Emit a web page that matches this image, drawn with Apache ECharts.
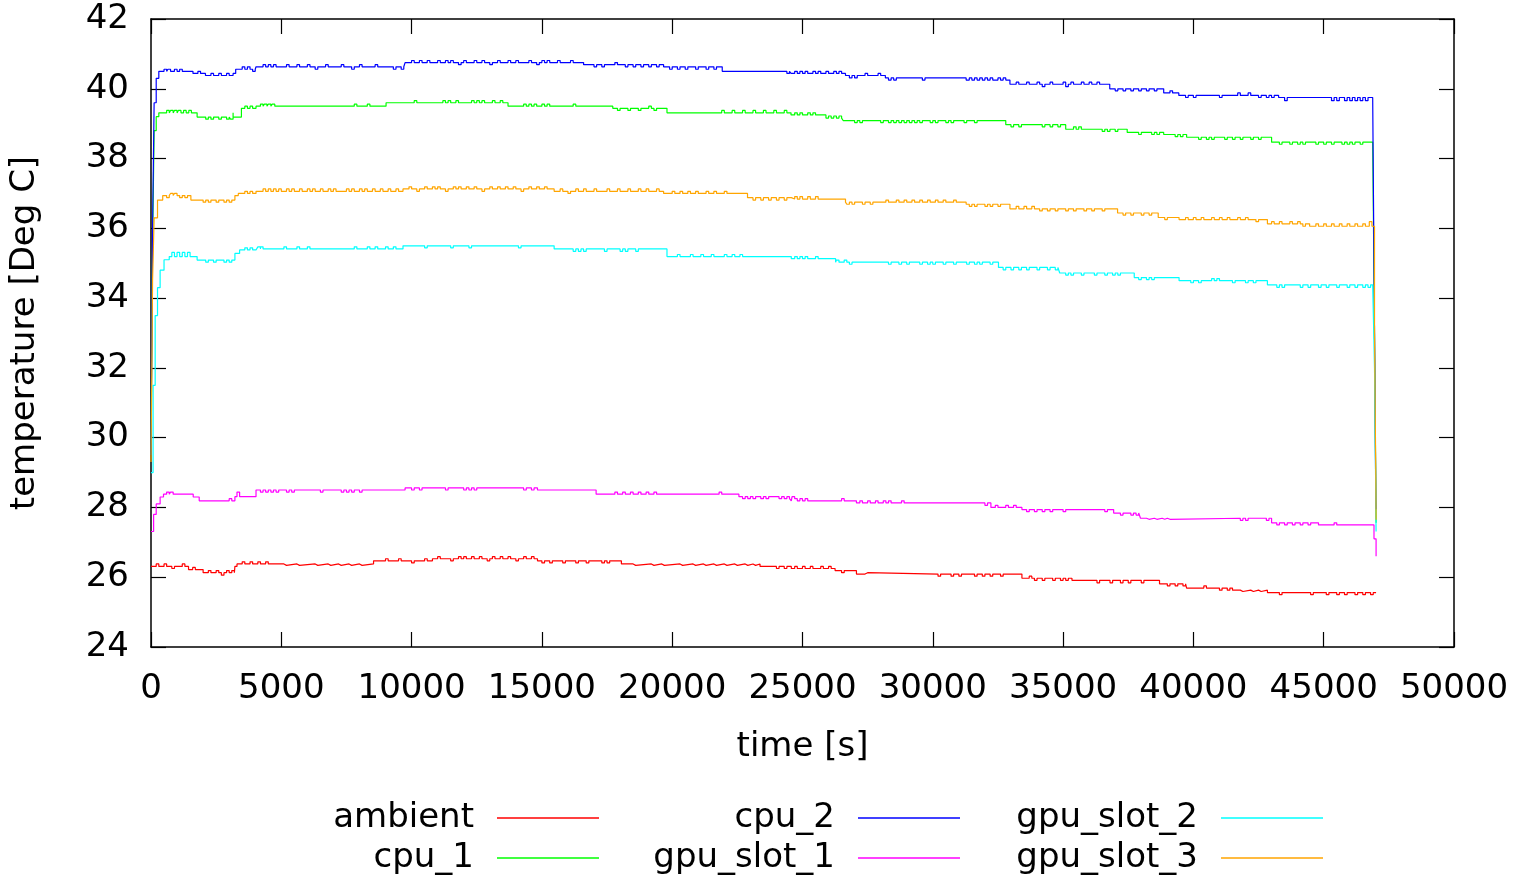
<!DOCTYPE html>
<html>
<head>
<meta charset="utf-8">
<script src="https://cdn.jsdelivr.net/npm/echarts@6/dist/echarts.min.js"></script>
<style>
  html, body { margin: 0; padding: 0; background: #fff; }
  #chart { width: 1516px; height: 877px; }
</style>
</head>
<body>
<div id="chart"></div>
<script>
// series names, in legend order
const seriesNames = ['ambient', 'cpu_1', 'cpu_2', 'gpu_slot_1', 'gpu_slot_2', 'gpu_slot_3'];
const seriesColors = ['#ff0000', '#00ff00', '#0000ff', '#ff00ff', '#00ffff', '#ffa500'];

// temperature levels: [time s, deg C], each value holds until the next time
// short sensor flickers: [time s, deg C], one reading off the current level

const ambientLevels = [
    [0, 26.31], [1440, 26.22], [2000, 26.13], [3220, 26.31], [3300, 26.38], [8540, 26.47], [10800, 26.53],
    [14830, 26.47], [18050, 26.38], [23370, 26.31], [24570, 26.25], [26250, 26.19], [27070, 26.09],
    [33420, 25.97], [35340, 25.91], [38700, 25.81], [39740, 25.69], [41500, 25.63], [42840, 25.56], [47010, 25.56]
];
const ambientFlicker = [
    [200, 26.38], [500, 26.38], [800, 26.25], [1200, 26.38],
    [1600, 26.28], [2200, 26.19], [2500, 26.19], [2700, 26.06], [2900, 26.19], [3100, 26.19],
    [3500, 26.44], [3800, 26.44], [4100, 26.44], [4400, 26.44], [5100, 26.34], [5600, 26.34], [6300, 26.34],
    [6800, 26.34], [7200, 26.34], [7600, 26.34], [8000, 26.34],
    [9000, 26.53], [9500, 26.53], [10000, 26.41], [10500, 26.53],
    [11000, 26.59], [11500, 26.47], [11800, 26.59], [12000, 26.59], [12300, 26.59], [12600, 26.59], [12900, 26.47],
    [13100, 26.59], [13400, 26.59], [13700, 26.59], [14000, 26.47], [14300, 26.59], [14600, 26.59],
    [15000, 26.41], [15300, 26.41], [15800, 26.41], [16300, 26.41], [16700, 26.41], [17300, 26.41], [17500, 26.41],
    [18500, 26.34], [19200, 26.34], [19600, 26.34], [20300, 26.34], [20800, 26.34], [21200, 26.34], [21600, 26.34],
    [22000, 26.34], [22400, 26.34], [22800, 26.34], [23100, 26.34],
    [24000, 26.25], [24300, 26.25],
    [24700, 26.31], [25000, 26.31], [25300, 26.31], [25700, 26.31], [26000, 26.31],
    [26500, 26.13], [27400, 26.13], [30200, 26.03], [30700, 26.03], [31000, 26.03], [31600, 26.03], [31900, 26.03],
    [32200, 26.03], [32600, 26.03],
    [33700, 26.03], [33900, 25.91], [34200, 25.91], [34600, 25.91], [34900, 25.91], [35100, 25.91],
    [36300, 25.84], [36800, 25.84], [37200, 25.84], [37500, 25.84], [38000, 25.84],
    [39000, 25.75], [39300, 25.75], [39600, 25.75],
    [40400, 25.75], [41000, 25.63], [41300, 25.63],
    [41800, 25.59], [42200, 25.59], [42500, 25.59],
    [43300, 25.5], [44500, 25.5], [45100, 25.5], [45500, 25.5], [45800, 25.5], [46200, 25.5], [46500, 25.5], [46800, 25.5]
];

const cpu1Levels = [
    [0, 29.5], [60, 35.5], [120, 38.8], [200, 39.2], [300, 39.31], [1770, 39.19], [3150, 39.31], [3470, 39.44],
    [4030, 39.5], [9020, 39.6], [13700, 39.5], [17720, 39.44], [19800, 39.31], [24560, 39.25], [25900, 39.16],
    [26560, 39.09], [32800, 38.97], [35100, 38.84], [37460, 38.75], [38860, 38.69], [39740, 38.61], [43000, 38.47],
    [46880, 38.42], [46950, 33.0], [47000, 28.5], [47010, 27.56]
];
const cpu1Flicker = [
    [600, 39.38], [750, 39.38], [900, 39.38], [1050, 39.38], [1250, 39.38], [1450, 39.38],
    [2100, 39.13], [2300, 39.13], [2600, 39.13], [2900, 39.13], [3050, 39.13],
    [3600, 39.5], [3800, 39.5],
    [4200, 39.56], [4350, 39.56], [4500, 39.56], [4650, 39.56], [7800, 39.56], [8300, 39.56],
    [10100, 39.66], [11200, 39.66], [11400, 39.66], [11700, 39.66], [12300, 39.66], [12500, 39.66], [12700, 39.66],
    [13100, 39.66], [13400, 39.66],
    [14300, 39.56], [14500, 39.56], [14700, 39.56], [15000, 39.56], [15200, 39.56], [16200, 39.56],
    [17900, 39.38], [18300, 39.38], [18700, 39.38], [19100, 39.5], [19300, 39.38],
    [21900, 39.38], [22300, 39.38], [22700, 39.38], [23100, 39.38], [23500, 39.38], [23900, 39.38], [24300, 39.38],
    [24700, 39.31], [24900, 39.31], [25200, 39.31], [25400, 39.31],
    [26000, 39.22], [26200, 39.22], [26400, 39.22],
    [27000, 39.03], [27200, 39.03], [28000, 39.03], [28300, 39.03], [28500, 39.03], [28700, 39.03], [28900, 39.03],
    [29100, 39.03], [29300, 39.03], [29500, 39.03], [29900, 39.03], [30100, 39.03], [30500, 39.03], [30700, 39.03],
    [31200, 39.03], [31600, 39.03],
    [33000, 38.91], [33300, 38.91], [34200, 38.91], [34500, 38.91], [34800, 38.91],
    [35400, 38.91], [35600, 38.91], [36500, 38.78], [36700, 38.78], [37000, 38.78],
    [37900, 38.69], [38400, 38.69], [38600, 38.69],
    [39300, 38.63], [39500, 38.63],
    [40200, 38.55], [40500, 38.55], [40700, 38.55], [41200, 38.55], [41500, 38.55], [41800, 38.55], [42200, 38.55], [42500, 38.55],
    [43300, 38.41], [43700, 38.41], [44000, 38.41], [44200, 38.41], [44700, 38.41], [45000, 38.41], [45300, 38.41],
    [45700, 38.41], [45900, 38.41], [46100, 38.41], [46400, 38.41]
];

const cpu2Levels = [
    [0, 29.5], [60, 36.0], [120, 39.6], [200, 40.3], [300, 40.5], [1610, 40.44], [2090, 40.38], [3150, 40.44],
    [3250, 40.56], [4030, 40.63], [9750, 40.75], [16600, 40.69], [19670, 40.63], [21920, 40.5], [24560, 40.44],
    [26650, 40.38], [28180, 40.31], [31280, 40.25], [32960, 40.13], [36790, 40.0], [38860, 39.88], [39440, 39.81],
    [43270, 39.75], [46880, 39.7], [46950, 33.0], [47000, 28.2], [47010, 27.95]
];
const cpu2Flicker = [
    [500, 40.56], [650, 40.56], [900, 40.56], [1100, 40.56], [1800, 40.5], [2300, 40.44], [2600, 40.44], [2900, 40.44],
    [3500, 40.63], [3700, 40.63], [3900, 40.5],
    [4300, 40.69], [4500, 40.69], [4700, 40.69], [5200, 40.69], [5600, 40.69], [6000, 40.69], [6300, 40.56],
    [6700, 40.69], [7300, 40.69], [7700, 40.56], [8000, 40.69], [8600, 40.69], [9300, 40.56], [9600, 40.56],
    [10000, 40.81], [10300, 40.81], [10600, 40.81], [11000, 40.81], [11300, 40.81], [11500, 40.81], [11800, 40.69],
    [12000, 40.81], [12400, 40.81], [12700, 40.81], [13000, 40.69], [13300, 40.81], [13700, 40.81], [14000, 40.81],
    [14500, 40.81], [14800, 40.69], [15000, 40.81], [15200, 40.81], [15600, 40.81], [16100, 40.81],
    [17000, 40.63], [17300, 40.63], [17800, 40.75], [18200, 40.63], [18500, 40.63], [18800, 40.63], [19100, 40.63], [19400, 40.63],
    [19900, 40.56], [20200, 40.56], [20500, 40.56], [20900, 40.56], [21300, 40.56], [21600, 40.56],
    [24400, 40.44],
    [24700, 40.5], [24900, 40.5], [25100, 40.5], [25400, 40.5], [25600, 40.5], [25900, 40.5], [26200, 40.5], [26400, 40.5],
    [26800, 40.31], [27000, 40.31], [27400, 40.44], [27900, 40.44],
    [28300, 40.25], [28500, 40.25], [29600, 40.25],
    [31400, 40.31], [31600, 40.31], [31800, 40.31], [32000, 40.31], [32200, 40.31], [32500, 40.31], [32700, 40.31],
    [33200, 40.19], [33600, 40.19], [34000, 40.19], [34200, 40.06], [34500, 40.19], [35000, 40.19], [35100, 40.06],
    [35300, 40.19], [35700, 40.19], [36000, 40.19], [36300, 40.19],
    [37000, 39.94], [37300, 39.94], [37600, 39.94], [37900, 39.94], [38200, 39.94], [38500, 39.94],
    [39100, 39.94],
    [39700, 39.75], [40000, 39.75], [41000, 39.75], [41700, 39.88], [42100, 39.88], [42500, 39.75], [42800, 39.75], [43000, 39.75],
    [43500, 39.66], [45300, 39.66], [45500, 39.66], [45800, 39.66], [46000, 39.66], [46200, 39.66], [46400, 39.66], [46600, 39.66]
];

const gpuSlot1Levels = [
    [0, 27.31], [100, 27.8], [200, 28.1], [350, 28.3], [480, 28.38], [1620, 28.3], [1850, 28.19], [3220, 28.31],
    [3400, 28.38], [4030, 28.5], [9750, 28.56], [14830, 28.5], [17080, 28.38], [22560, 28.31], [24570, 28.19],
    [27070, 28.13], [32230, 28.0], [33420, 27.94], [36940, 27.84], [37970, 27.69], [43000, 27.56], [44800, 27.5],
    [46850, 27.5], [46930, 27.1], [47010, 26.6]
];
const gpuSlot1Flicker = [
    [600, 28.44], [750, 28.44], [3000, 28.25], [3300, 28.44],
    [4200, 28.44], [4400, 28.44], [4600, 28.44], [4800, 28.44], [5200, 28.44], [5400, 28.44], [6500, 28.44],
    [7300, 28.44], [7500, 28.44], [7700, 28.44], [8000, 28.44],
    [10000, 28.5], [10300, 28.5], [11300, 28.5], [12000, 28.5], [12200, 28.5], [12400, 28.5], [14300, 28.5], [14600, 28.5],
    [17800, 28.44], [18100, 28.44], [18400, 28.44], [18700, 28.44], [19000, 28.44], [19300, 28.44], [21800, 28.44],
    [22700, 28.25], [22900, 28.25], [23100, 28.25], [23400, 28.25], [23600, 28.25], [24100, 28.25], [24300, 28.25], [24500, 28.25],
    [24700, 28.25], [24900, 28.25], [25100, 28.25], [26500, 28.25],
    [27200, 28.19], [27500, 28.19], [27800, 28.19], [28100, 28.19], [28300, 28.19], [28800, 28.19],
    [32000, 28.06], [32400, 28.06], [32800, 28.06], [33100, 28.06],
    [33600, 27.88], [33900, 27.88], [34200, 27.88], [34500, 27.88], [35000, 27.88], [36600, 27.88],
    [37200, 27.78], [37600, 27.78], [37800, 27.78],
    [38200, 27.66], [38500, 27.66], [38800, 27.66], [39000, 27.66],
    [41800, 27.63], [42000, 27.63], [42800, 27.63],
    [43200, 27.5], [43500, 27.5], [43800, 27.5], [44100, 27.5], [44400, 27.5], [45400, 27.56]
];

const gpuSlot2Levels = [
    [0, 29.0], [80, 31.5], [160, 33.5], [250, 34.3], [350, 34.8], [500, 35.1], [700, 35.19], [1770, 35.09],
    [3220, 35.28], [3400, 35.38], [4030, 35.41], [9670, 35.5], [15470, 35.41], [19800, 35.19], [24570, 35.13],
    [26270, 35.03], [32520, 34.88], [34870, 34.72], [37730, 34.59], [39450, 34.5], [42840, 34.38],
    [46880, 34.38], [46950, 32.0], [47000, 28.2], [47010, 27.31]
];
const gpuSlot2Flicker = [
    [800, 35.31], [1000, 35.31], [1200, 35.31], [1400, 35.31],
    [2100, 35.03], [2400, 35.03], [2800, 35.03], [3000, 35.03],
    [3600, 35.44], [3800, 35.44], [4100, 35.47], [4200, 35.47],
    [5100, 35.47], [5600, 35.47], [6000, 35.47], [7800, 35.47], [8300, 35.47], [8600, 35.47], [9000, 35.47], [9300, 35.47],
    [10500, 35.44], [11500, 35.44], [12200, 35.44], [14100, 35.44],
    [16200, 35.34], [16400, 35.34], [16600, 35.34], [17400, 35.34], [18000, 35.34], [18200, 35.34], [18600, 35.34],
    [20200, 35.25], [20700, 35.25], [21100, 35.25], [21500, 35.25], [22000, 35.25], [22300, 35.25], [22600, 35.25],
    [24700, 35.19], [24900, 35.19], [25100, 35.19], [25500, 35.19],
    [26300, 35.09], [26600, 35.09], [26800, 34.97], [28300, 34.97], [28700, 34.97], [29000, 34.97], [29500, 34.97],
    [29800, 34.97], [30000, 34.97], [30400, 34.97], [30800, 34.97], [31300, 34.97], [31600, 34.97], [31800, 34.97], [32200, 34.97],
    [32700, 34.81], [33000, 34.81], [33300, 34.81], [33600, 34.81], [34000, 34.81], [34400, 34.81], [34700, 34.81],
    [35100, 34.66], [35300, 34.66], [35700, 34.66], [36200, 34.66], [36600, 34.66], [36900, 34.66], [37100, 34.66],
    [37900, 34.53], [38200, 34.53], [38400, 34.53],
    [39900, 34.44], [40200, 34.44], [40700, 34.56], [40900, 34.56], [41500, 34.44], [42000, 34.44], [42300, 34.44],
    [43200, 34.31], [43400, 34.31], [44100, 34.31], [44400, 34.31], [44800, 34.31], [45100, 34.31], [45500, 34.31],
    [45900, 34.31], [46200, 34.31], [46500, 34.31], [46700, 34.31]
];

const gpuSlot3Levels = [
    [0, 29.3], [60, 34.5], [120, 36.3], [250, 36.81], [450, 36.94], [1530, 36.81], [3220, 36.94], [3350, 37.0],
    [4030, 37.06], [9670, 37.13], [15470, 37.06], [19670, 37.0], [22890, 36.88], [24570, 36.84], [26650, 36.75],
    [31280, 36.69], [32960, 36.56], [37090, 36.44], [38650, 36.31], [39450, 36.25], [42840, 36.13], [44460, 36.06],
    [46880, 36.06], [46950, 33.0], [47000, 28.8], [47010, 27.65]
];
const gpuSlot3Flicker = [
    [600, 36.88], [750, 37.0], [900, 37.0], [1100, 36.88], [1300, 36.88],
    [2000, 36.75], [2200, 36.75], [2500, 36.75], [2800, 36.75], [3000, 36.75],
    [3600, 37.06], [3800, 37.06],
    [4300, 37.13], [4500, 37.13], [4700, 37.13], [4900, 37.13], [5200, 37.13], [5400, 37.13], [5700, 37.13], [6000, 37.13],
    [6200, 37.13], [6500, 37.13], [6800, 37.13], [7000, 37.13], [7500, 37.13], [7700, 37.13], [8000, 37.13], [8200, 37.13],
    [8500, 37.13], [8800, 37.13], [9100, 37.13], [9400, 37.13],
    [9900, 37.19], [10200, 37.06], [10500, 37.19], [10800, 37.19], [11000, 37.19], [11300, 37.06], [11600, 37.19],
    [11800, 37.19], [12100, 37.19], [12400, 37.19], [12700, 37.06], [13000, 37.19], [13300, 37.19], [13600, 37.19],
    [13900, 37.19], [14200, 37.06], [14500, 37.19], [14800, 37.19], [15100, 37.19],
    [15700, 37.13], [16000, 37.0], [16300, 37.13], [16600, 37.13], [17000, 37.13], [17500, 37.13], [17900, 37.13],
    [18300, 37.13], [18700, 37.13], [19000, 37.13], [19400, 37.13],
    [20000, 37.06], [20300, 37.06], [20600, 37.06], [20900, 37.06], [21300, 37.06], [21600, 37.06], [22000, 37.06],
    [23100, 36.81], [23400, 36.81], [23700, 36.81], [24000, 36.81], [24300, 36.81],
    [24700, 36.91], [24900, 36.91], [25200, 36.91], [25500, 36.91],
    [26700, 36.69], [26900, 36.69], [27300, 36.69], [27600, 36.69], [28200, 36.81], [28600, 36.81], [28900, 36.81],
    [29200, 36.81], [29500, 36.81], [29800, 36.81], [30100, 36.81], [30400, 36.81], [30800, 36.81],
    [31400, 36.63], [31600, 36.63], [32000, 36.63], [32200, 36.63], [32500, 36.63],
    [33200, 36.63], [33500, 36.63], [33800, 36.63], [34100, 36.5], [34400, 36.5], [34700, 36.5], [35100, 36.5],
    [35400, 36.5], [35800, 36.5], [36100, 36.5], [36500, 36.5],
    [37300, 36.38], [37600, 36.38], [38000, 36.38], [38300, 36.38],
    [38900, 36.25],
    [39700, 36.31], [40000, 36.31], [40300, 36.31], [40700, 36.31], [41000, 36.31], [41300, 36.31], [41700, 36.31],
    [42000, 36.31], [42400, 36.19],
    [43000, 36.19], [43300, 36.19], [43700, 36.19], [44000, 36.19], [44200, 36.06],
    [44700, 36.13], [45000, 36.13], [45300, 36.13], [45600, 36.13], [45900, 36.13], [46200, 36.13], [46500, 36.13], [46750, 36.19]
];

const seriesLevels = [ambientLevels, cpu1Levels, cpu2Levels, gpuSlot1Levels, gpuSlot2Levels, gpuSlot3Levels];
const seriesFlicker = [ambientFlicker, cpu1Flicker, cpu2Flicker, gpuSlot1Flicker, gpuSlot2Flicker, gpuSlot3Flicker];

// axis ticks
const xTicks = { min: 0, max: 50000, interval: 5000 };
const yTicks = { min: 24, max: 42, interval: 2 };

const FONT = 'DejaVu Sans';
const FONT_SIZE = 34;
const FLICKER_LEN = 100; // seconds one flicker reading lasts

// level the sensor sits at, at time t
function levelAt(levels, t) {
    var v = levels[0][1];
    for (var i = 0; i < levels.length; i++) {
        if (levels[i][0] <= t) v = levels[i][1];
    }
    return v;
}

// merge level changes and flicker readings into one step series
function buildSeries(levels, flicker) {
    var pts = levels.slice();
    flicker.forEach(function (f) {
        pts.push([f[0], f[1]]);
        pts.push([f[0] + FLICKER_LEN, levelAt(levels, f[0])]);
    });
    pts.sort(function (a, b) { return a[0] - b[0]; });
    return pts;
}

function drawChart() {
    var dom = document.getElementById('chart');
    var myChart = echarts.init(dom, null, { renderer: 'canvas' });

    var tickStyle = { show: true, inside: true, length: 15, lineStyle: { color: '#000', width: 1.2 } };
    var lineStyle = { show: true, onZero: false, lineStyle: { color: '#000', width: 1.5 } };

    // gnuplot-style legend: text on the left, line sample on the right, 2 rows x 3 columns
    var legendRight = [917, 556, 193];
    var legendTop = [800, 840];
    var legends = seriesNames.map(function (name, i) {
        var col = Math.floor(i / 2);
        var row = i % 2;
        return {
            data: [name],
            right: legendRight[col],
            top: legendTop[row],
            align: 'right',
            padding: 0,
            icon: 'rect',
            itemWidth: 102,
            itemHeight: 1.5,
            selectedMode: false,
            textStyle: {
                fontFamily: FONT,
                fontSize: FONT_SIZE,
                color: '#000',
                lineHeight: 36,
                padding: [0, 18, 0, 0]
            }
        };
    });

    var option = {
        animation: false,
        backgroundColor: '#fff',
        grid: { left: 148.5, right: 62, top: 19, bottom: 230, containLabel: false },
        legend: legends,
        xAxis: [
            {
                type: 'value',
                min: xTicks.min, max: xTicks.max, interval: xTicks.interval,
                name: 'time [s]',
                nameLocation: 'middle',
                nameGap: 83,
                nameTextStyle: { fontFamily: FONT, fontSize: FONT_SIZE, color: '#000' },
                axisLine: lineStyle,
                axisTick: tickStyle,
                splitLine: { show: false },
                axisLabel: {
                    fontFamily: FONT, fontSize: FONT_SIZE, color: '#000', margin: 25,
                    formatter: function (v) { return String(v); }
                }
            },
            {
                type: 'value', position: 'top',
                min: xTicks.min, max: xTicks.max, interval: xTicks.interval,
                axisLine: lineStyle,
                axisTick: tickStyle,
                splitLine: { show: false },
                axisLabel: { show: false }
            }
        ],
        yAxis: [
            {
                type: 'value',
                min: yTicks.min, max: yTicks.max, interval: yTicks.interval,
                name: 'temperature [Deg C]',
                nameLocation: 'middle',
                nameGap: 109,
                nameTextStyle: { fontFamily: FONT, fontSize: FONT_SIZE, color: '#000' },
                axisLine: lineStyle,
                axisTick: tickStyle,
                splitLine: { show: false },
                axisLabel: { fontFamily: FONT, fontSize: FONT_SIZE, color: '#000', margin: 22 }
            },
            {
                type: 'value', position: 'right',
                min: yTicks.min, max: yTicks.max, interval: yTicks.interval,
                axisLine: lineStyle,
                axisTick: tickStyle,
                splitLine: { show: false },
                axisLabel: { show: false }
            }
        ],
        series: seriesNames.map(function (name, i) {
            return {
                name: name,
                type: 'line',
                step: 'end',
                data: buildSeries(seriesLevels[i], seriesFlicker[i]),
                showSymbol: false,
                symbol: 'none',
                color: seriesColors[i],
                lineStyle: { width: 1.2, color: seriesColors[i] },
                emphasis: { disabled: true }
            };
        })
    };

    myChart.setOption(option);
    window.addEventListener('resize', myChart.resize);
}

drawChart();
</script>
</body>
</html>
